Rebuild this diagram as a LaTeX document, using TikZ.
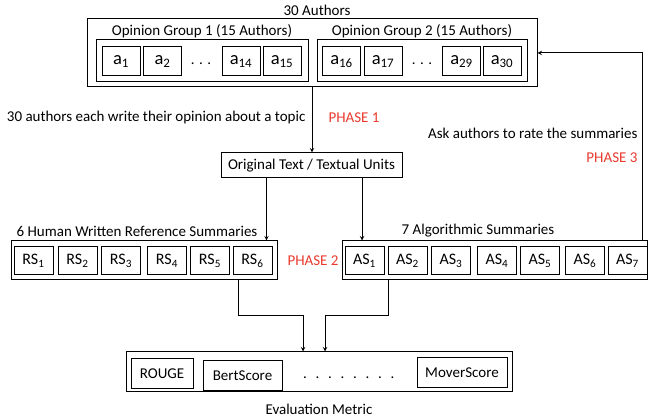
\documentclass[tikz,border=0pt]{standalone}
\usepackage{fontspec}
\setmainfont{Carlito}
\usetikzlibrary{arrows}
\definecolor{phasered}{RGB}{232,58,45}
\tikzstyle{group}=[draw,line width=1pt,inner sep=0]
\tikzstyle{abox}=[draw,line width=1pt,inner sep=0,minimum width=38pt,minimum height=29pt,font=\fontsize{18.5}{20}\selectfont]
\tikzstyle{sbox}=[draw,line width=1pt,inner sep=0,minimum width=39pt,minimum height=28pt,font=\fontsize{16}{18}\selectfont]
\tikzstyle{mbox}=[draw,line width=1pt,inner sep=0,minimum height=30pt]
\tikzstyle{phase}=[text=phasered]
\tikzstyle{arrow}=[line width=1pt,->,>=stealth]

\begin{document}
\begin{tikzpicture}[x=1pt,y=-1pt,font=\fontsize{15}{17}\selectfont]
\useasboundingbox (0,0) rectangle (649,419);

% authors
\node (authors) at (312,53) [group,minimum width=450pt,minimum height=68pt]{};
\node (authorstitle) at (317,10) {30 Authors};
\node (group1) at (202,61) [group,minimum width=212pt,minimum height=42pt]{};
\node (group2) at (422,61) [group,minimum width=210pt,minimum height=42pt]{};
\node (group1title) at (202,31) {Opinion Group 1 (15 Authors)};
\node (group2title) at (422,31) {Opinion Group 2 (15 Authors)};
\foreach \x/\n in {121/1,162.5/2,241/14,282/15,341.5/16,383/17,461.5/29,502/30}{
	\node (a\n) at (\x,61.5) [abox]{a\textsubscript{\n}};}
\node (dots1) at (201,64) {. . .};
\node (dots2) at (422,64) {. . .};

% phase 1
\node (orig) at (311.5,165.5) [draw,line width=1pt,inner sep=0,minimum width=181pt,minimum height=25pt]{Original Text / Textual Units};
\draw[arrow] (authors.south) -- (authors.south |- orig.north);
\node (writetext) at (309,118) [anchor=east]{30 authors each write their opinion about a topic};
\node (phase1) at (325,118) [anchor=west,phase]{PHASE 1};

% phase 2
\node (rs) at (144,260.5) [group,minimum width=266pt,minimum height=39pt]{};
\node (rstitle) at (137,231) {6 Human Written Reference Summaries};
\foreach \x/\n in {33.5/1,77.5/2,121/3,167/4,210/5,252.5/6}{
	\node (rs\n) at (\x,261) [sbox]{RS\textsubscript{\n}};}
\node (as) at (494.5,260.5) [group,minimum width=305pt,minimum height=39pt]{};
\node (astitle) at (478,231) {7 Algorithmic Summaries};
\foreach \x/\n in {364.5/1,407.5/2,451/3,497/4,540/5,585/6,627.5/7}{
	\node (as\n) at (\x,261) [sbox]{AS\textsubscript{\n}};}
\node (phase2) at (284,261) [anchor=west,phase]{PHASE 2};
\draw[arrow] ([xshift=-45pt]orig.south) -- ([xshift=-45pt]orig.south |- rs.north);
\draw[arrow] ([xshift=50.5pt]orig.south) -- ([xshift=50.5pt]orig.south |- as.north);

% phase 3
\draw[arrow] ([xshift=148pt]as.north) |- (authors.east);
\node (ratetext) at (641,133) [anchor=east]{Ask authors to rate the summaries};
\node (phase3) at (641,158) [anchor=east,phase]{PHASE 3};

% evaluation
\node (eval) at (319,372) [group,minimum width=386pt,minimum height=40pt]{};
\node (evaltitle) at (319,409) {Evaluation Metric};
\node (rouge) at (162,374) [mbox,minimum width=62pt]{ROUGE};
\node (bert) at (242.5,376) [mbox,minimum width=79pt]{BertScore};
\node (mover) at (462,373) [mbox,minimum width=90pt]{MoverScore};
\foreach \i in {0,...,7}{
	\node (edot\i) at (305+\i*12.5,378) {.};}
\draw[arrow] ([xshift=94pt]rs.south) -- ++(0,35) -| ([xshift=-16pt]eval.north);
\draw[arrow] ([xshift=-106pt]as.south) -- ++(0,35) -| ([xshift=6pt]eval.north);
\end{tikzpicture}
\end{document}
